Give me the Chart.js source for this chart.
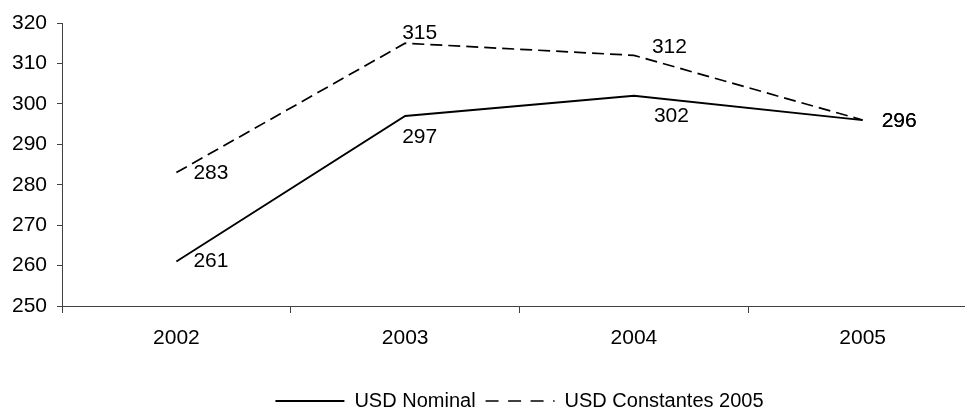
<!DOCTYPE html>
<html>
<head>
<meta charset="utf-8">
<script src="https://cdn.jsdelivr.net/npm/chart.js@4/dist/chart.umd.min.js"></script>
<style>
  html, body { margin: 0; padding: 0; background: #fff; overflow: hidden; }
  #wrap { width: 965px; height: 411px; overflow: hidden; }
</style>
</head>
<body>
<div id="wrap"><canvas id="chart" width="1000" height="421"></canvas></div>
<script>
// values
const years = ['2002', '2003', '2004', '2005'];
const usdNominal = [261, 297, 302, 296];
const usdConstantes = [283, 315, 312, 296];
const yTicks = [250, 260, 270, 280, 290, 300, 310, 320];

// where each value label sits relative to its point (dx, dy)
const nominalLabelOffsets = [[17, 0], [-3, 21], [20, 20], [19, 1]];
const constLabelOffsets = [[17, 1], [-3, -10], [18, -8], [19, 1]];

const FONT = 'Liberation Sans, Arial, sans-serif';
const AXIS = '#404040';

// simple value labels next to the points
const pointLabels = {
  id: 'pointLabels',
  afterDatasetsDraw(chart) {
    const ctx = chart.ctx;
    const offsets = [nominalLabelOffsets, constLabelOffsets];
    ctx.save();
    ctx.font = '21px ' + FONT;
    ctx.fillStyle = '#000';
    ctx.textAlign = 'left';
    ctx.textBaseline = 'middle';
    chart.data.datasets.forEach((ds, i) => {
      const meta = chart.getDatasetMeta(i);
      meta.data.forEach((pt, j) => {
        const off = offsets[i][j];
        ctx.fillText(String(ds.data[j]), pt.x + off[0], pt.y + off[1]);
      });
    });
    ctx.restore();
  }
};

// legend in the reference is centred a bit right of the canvas middle
const shiftLegend = {
  id: 'shiftLegend',
  afterLayout(chart) {
    const lg = chart.legend;
    if (!lg) return;
    lg.left += 31;
    lg.right += 31;
  }
};

new Chart(document.getElementById('chart'), {
  type: 'line',
  data: {
    labels: years,
    datasets: [{
      label: 'USD Nominal',
      data: usdNominal,
      borderColor: '#000',
      backgroundColor: '#000',
      borderWidth: 1.8,
      pointRadius: 0,
      tension: 0
    }, {
      label: 'USD Constantes 2005',
      data: usdConstantes,
      borderColor: '#000',
      backgroundColor: '#000',
      borderWidth: 1.7,
      borderDash: [12, 6],
      pointRadius: 0,
      tension: 0
    }]
  },
  options: {
    responsive: false,
    animation: false,
    layout: { padding: { left: 0, right: 23, top: 23, bottom: 0 } },
    plugins: {
      tooltip: { enabled: false },
      legend: {
        position: 'bottom',
        labels: {
          usePointStyle: true,
          pointStyle: 'line',
          pointStyleWidth: 69,
          padding: 10,
          color: '#000',
          font: { family: FONT, size: 20 },
          generateLabels(chart) {
            const items = Chart.defaults.plugins.legend.labels.generateLabels(chart);
            items.forEach((it, i) => {
              const ds = chart.data.datasets[i];
              it.lineDash = ds.borderDash ? [13, 9.5] : [];
              it.lineWidth = ds.borderWidth;
              it.strokeStyle = '#000';
            });
            return items;
          }
        }
      }
    },
    scales: {
      x: {
        offset: true,
        grid: { offset: true, drawOnChartArea: false, drawTicks: true, tickLength: 7, color: AXIS },
        border: { display: true, color: AXIS, width: 1 },
        ticks: { color: '#000', padding: 13, font: { family: FONT, size: 21 } },
        afterFit(scale) { scale.height = 75; }
      },
      y: {
        min: 250,
        max: 320,
        grid: { drawOnChartArea: false, drawTicks: true, tickLength: 5, color: AXIS },
        border: { display: true, color: AXIS, width: 1 },
        ticks: { color: '#000', padding: 10, stepSize: 10, font: { family: FONT, size: 21 } },
        afterBuildTicks(scale) { scale.ticks = yTicks.map(v => ({ value: v })); },
        afterFit(scale) { scale.width = 62; }
      }
    }
  },
  plugins: [pointLabels, shiftLegend]
});
</script>
</body>
</html>
